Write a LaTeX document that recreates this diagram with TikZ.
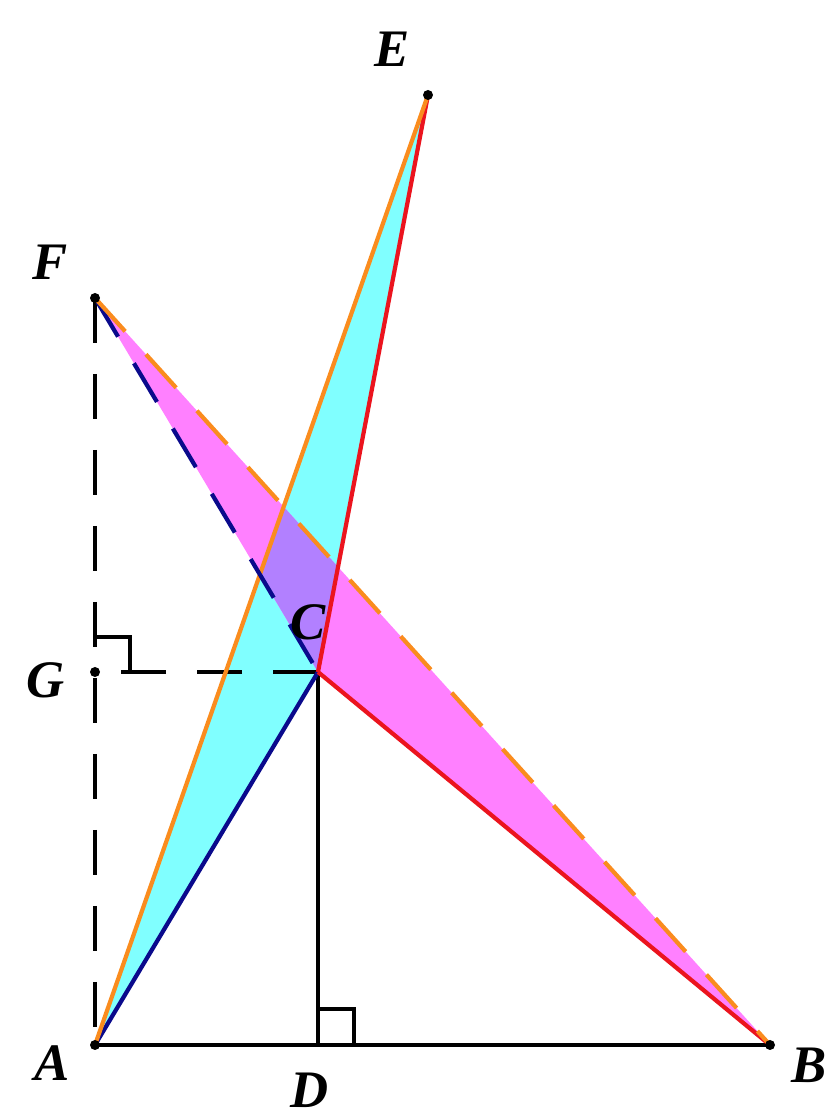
\documentclass[tikz,border=0pt]{standalone}
\usepackage{fontspec}
\setmainfont{Liberation Serif}
\usepackage{tikz}
\usetikzlibrary{positioning, calc}
\definecolor{mycyan}{RGB}{128,255,255}
\definecolor{mymagenta}{RGB}{255,128,255}
\definecolor{mylilac}{RGB}{178,128,255}
\definecolor{myorange}{RGB}{250,140,30}
\definecolor{myred}{RGB}{235,20,30}
\definecolor{mynavy}{RGB}{10,10,140}
\tikzset{
  seg/.style={line width=2.4pt},
  dseg/.style={line width=2.4pt, dash pattern=on 0.9cm off 0.62cm},
  ramark/.style={line width=2pt},
  pt/.style={circle, fill=black, inner sep=0pt, minimum size=0.2cm},
  lbl/.style={font=\fontsize{30}{34}\selectfont\bfseries\itshape}
}

\begin{document}
\begin{tikzpicture}
  \useasboundingbox (0,0) rectangle (16.6,22.34);
  % Points
  \coordinate (A) at (1.90,1.44);
  \coordinate (B) at (15.40,1.44);
  \coordinate (D) at (6.36,1.44);
  \coordinate (C) at (6.36,8.90);
  \coordinate (G) at (1.90,8.90);
  \coordinate (F) at (1.90,16.38);
  \coordinate (E) at (8.56,20.44);

  % Shaded triangles
  \fill[mycyan] (A) -- (C) -- (E) -- cycle;
  \fill[mymagenta] (F) -- (C) -- (B) -- cycle;
  \begin{scope}
    \clip (A) -- (C) -- (E) -- cycle;
    \fill[mylilac] (F) -- (C) -- (B) -- cycle;
  \end{scope}

  % Black auxiliary lines
  \draw[seg] (A) -- (B);
  \draw[seg] (C) -- (D);
  \draw[dseg] (F) -- (A);
  \draw[dseg] (C) -- (G);

  % Right angle marks
  \draw[ramark] ($(G)+(0,0.7)$) -- ($(G)+(0.7,0.7)$) -- ($(G)+(0.7,0)$);
  \draw[ramark] ($(D)+(0,0.72)$) -- ($(D)+(0.72,0.72)$) -- ($(D)+(0.72,0)$);

  % Triangle A C E
  \draw[seg, mynavy] (A) -- (C);
  \draw[seg, myred] (C) -- (E);
  \draw[seg, myorange] (A) -- (E);
  % Triangle F C B
  \draw[dseg, mynavy] (F) -- (C);
  \draw[seg, myred] (C) -- (B);
  \draw[dseg, myorange] (F) -- (B);

  % Dots
  \foreach \p in {A,B,E,F,G}
    \node[pt] (dot\p) at (\p) {};

  % Labels
  \node[lbl] (lblA) at (1.04,1.08) {A};
  \node[lbl] (lblB) at (16.18,1.04) {B};
  \node[lbl] (lblD) at (6.20,0.54) {D};
  \node[lbl] (lblE) at (7.84,21.36) {E};
  \node[lbl] (lblF) at (1.00,17.10) {F};
  \node[lbl] (lblG) at (0.92,8.74) {G};
  \node[lbl] (lblC) at (6.16,9.90) {C};
\end{tikzpicture}
\end{document}
